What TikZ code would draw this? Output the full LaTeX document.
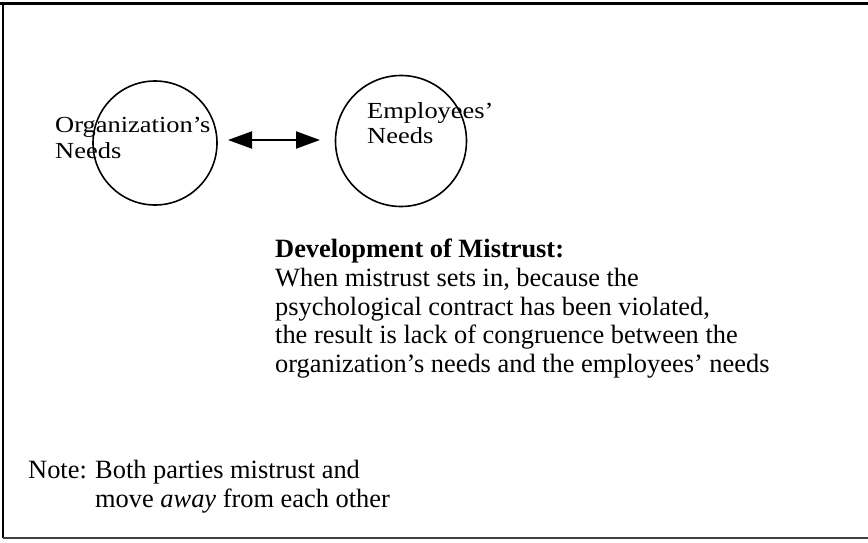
\documentclass[tikz,border=0pt]{standalone}
\usepackage{fontspec}
\setmainfont{Liberation Serif}
\newfontfamily\palfont[FakeStretch=1.15]{Liberation Serif}
\usetikzlibrary{arrows.meta}
\tikzset{
  need/.style={circle, draw, line width=1.6pt, inner sep=0pt},
  lbl/.style={anchor=base west, inner sep=0pt, font=\palfont\fontsize{23}{26}\selectfont},
  body/.style={anchor=base west, inner sep=0pt, font=\fontsize{26.4}{29}\selectfont},
  dblarrow/.style={line width=2pt, {Triangle[length=24pt,width=17pt]}-{Triangle[length=24pt,width=17pt]}},
}
\begin{document}
\begin{tikzpicture}[x=1pt, y=-1pt]
\useasboundingbox (0,0) rectangle (868,543);
% frame
\draw[line width=3pt] (0,4) -- (868,4);
\draw[line width=2pt] (3,3) -- (3,538);
\draw[line width=1.6pt, black!75] (3,538) -- (868,538);
% circles
\node[need, minimum size=124pt] (org) at (155,143) {};
\node[need, minimum size=131pt] (emp) at (401,141) {};
% labels
\node[lbl] (o1) at (55,132) {Organization’s};
\node[lbl] (o2) at (55,158) {Needs};
\node[lbl] (e1) at (367,118) {Employees’};
\node[lbl] (e2) at (367,143) {Needs};
% arrow
\coordinate (al) at (228,140);
\coordinate (ar) at (320,140);
\draw[dblarrow] (al) -- (ar);
% body text
\node[body, font=\bfseries\fontsize{26.4}{29}\selectfont] (t0) at (275,257) {Development of Mistrust:};
\node[body] (t1) at (275,286) {When mistrust sets in, because the};
\node[body] (t2) at (275,315) {psychological contract has been violated,};
\node[body] (t3) at (275,343) {the result is lack of congruence between the};
\node[body] (t4) at (275,372) {organization’s needs and the employees’ needs};
% note
\node[body] (n0) at (28,478) {Note:};
\node[body] (n1) at (95,478) {Both parties mistrust and};
\node[body] (n2) at (95,507) {move \textit{away} from each other};
\end{tikzpicture}
\end{document}
